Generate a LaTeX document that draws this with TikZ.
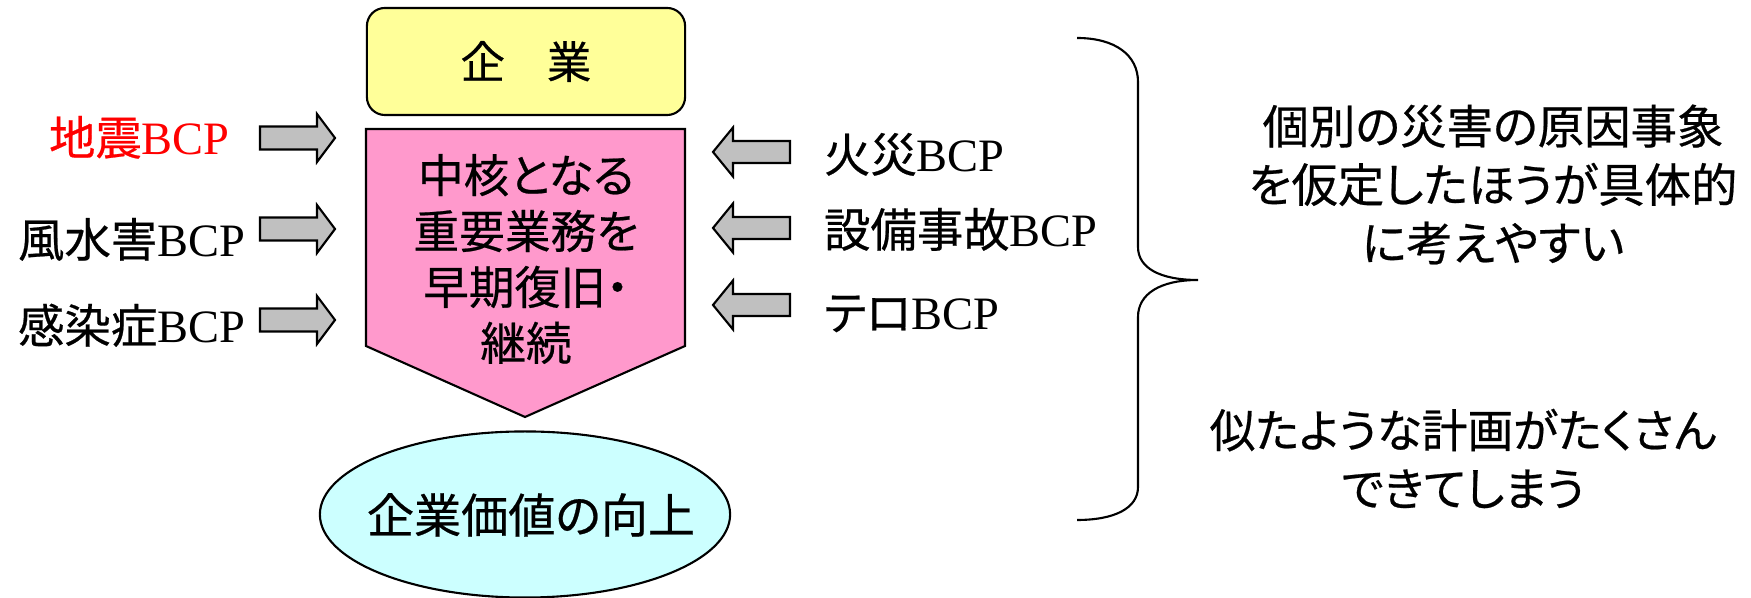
\documentclass[tikz,border=0pt]{standalone}
\usepackage{fontspec}
\setmainfont{Liberation Serif}
\newfontfamily\jp[CharacterWidth=AlternateProportional,FakeBold=0.5]{Noto Sans CJK JP}
\usetikzlibrary{shapes.geometric}
\definecolor{boxyellow}{HTML}{FFFF99}
\definecolor{boxpink}{HTML}{FF99CC}
\definecolor{boxcyan}{HTML}{CCFFFF}
\definecolor{arrowgray}{HTML}{C0C0C0}
\definecolor{labelred}{HTML}{FF0000}
\begin{document}
\begin{tikzpicture}[x=0.01cm,y=-0.01cm,line width=0.6pt,
  blockarrow/.style={draw=black,fill=arrowgray,line width=0.6pt,line join=miter},
  toright/.pic={\draw[blockarrow] (-37.5,-11.5) -- (19.5,-11.5) -- (19.5,-24) -- (37.5,0) -- (19.5,24) -- (19.5,11.5) -- (-37.5,11.5) -- cycle;},
  toleft/.pic={\draw[blockarrow] (38.5,-11) -- (-18.5,-11) -- (-18.5,-24.5) -- (-38.5,0) -- (-18.5,24.5) -- (-18.5,11) -- (38.5,11) -- cycle;},
  lbl/.style={inner sep=0pt,font=\fontsize{13.2}{16}\selectfont},
  jptext/.style={inner sep=0pt,align=center,font=\fontsize{13.2}{16.6}\selectfont\jp}]
\useasboundingbox (0,0) rectangle (1751,598);

% company box
\node[draw,fill=boxyellow,rounded corners=0.18cm,minimum width=3.18cm,minimum height=1.07cm,
      font=\fontsize{12.6}{15}\selectfont\jp] (company) at (526,61.5) {企\hspace{0.95em}業};

% core business pentagon
\draw[fill=boxpink] (366,129) -- (685,129) -- (685,346) -- (525,417) -- (366,346) -- cycle;
\node[jptext,font=\fontsize{13}{15.9}\selectfont\jp] (core) at (526,259) {中核となる\\重要業務を\\早期復旧・\\継続};

% enterprise value ellipse
\node[draw,fill=boxcyan,ellipse,inner sep=0pt,minimum width=4.1cm,minimum height=1.66cm] (value) at (525,514.5) {};
\node[jptext,font=\fontsize{13.4}{16}\selectfont\jp] (valuetext) at (531,515) {企業価値の向上};

% left block arrows
\pic at (297.5,138) {toright};
\pic at (297.5,229) {toright};
\pic at (297.5,320) {toright};
% right block arrows
\pic at (751.5,152) {toleft};
\pic at (751.5,228) {toleft};
\pic at (751.5,305) {toleft};

% left labels
\node[lbl,anchor=base west,text=labelred] (quake) at (48,155) {{\jp 地震}BCP};
\node[lbl,anchor=base west] (storm) at (17,257) {{\jp 風水害}BCP};
\node[lbl,anchor=base west] (infect) at (17,343) {{\jp 感染症}BCP};
% right labels
\node[lbl,anchor=base west] (fire) at (823,172) {{\jp 火災}BCP};
\node[lbl,anchor=base west] (equip) at (823,247) {{\jp 設備事故}BCP};
\node[lbl,anchor=base west] (terror) at (823,330) {{\jp テロ}BCP};

% brace
\draw (1077,38) .. controls (1115,38) and (1138,55) .. (1138,82)
  -- (1138,247) .. controls (1138,268) and (1160,280) .. (1198,280)
  .. controls (1160,280) and (1138,294) .. (1138,317)
  -- (1138,487) .. controls (1138,508) and (1115,520) .. (1077,520);

% right texts
\node[jptext] (merit) at (1493,184.5) {個別の災害の原因事象\\を仮定したほうが具体的\\に考えやすい};
\node[jptext,font=\fontsize{13}{16.6}\selectfont\jp] (demerit) at (1463,458.5) {似たような計画がたくさん\\できてしまう};
\end{tikzpicture}
\end{document}
